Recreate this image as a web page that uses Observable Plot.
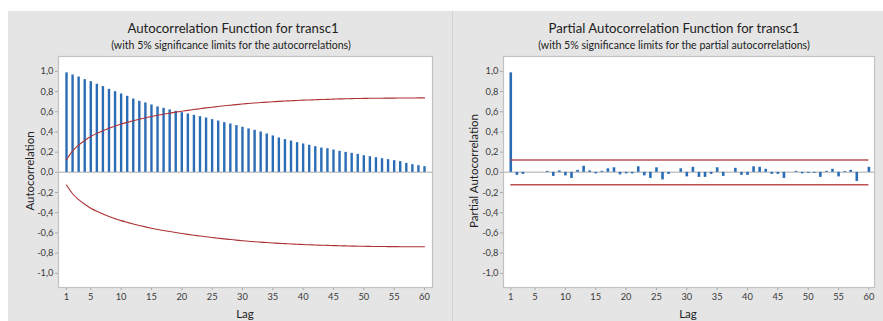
<!DOCTYPE html>
<html><head><meta charset="utf-8">
<script src="https://cdn.jsdelivr.net/npm/d3@7"></script>
<script src="https://cdn.jsdelivr.net/npm/@observablehq/plot@0.6"></script>
<style>
body{margin:0;background:#fff;font-family:Lato,"Noto Sans",sans-serif;}
#wrap{position:relative;width:883px;height:321px;overflow:hidden;background:#fff;}
.panel{position:absolute;top:11px;height:310px;background:#e5e5e5;}
.divider{position:absolute;top:11px;left:452px;width:1px;height:310px;background:#d2d2d2;}
.title{position:absolute;white-space:nowrap;transform:translateX(-50%);color:#222;font-size:13.2px;line-height:16px;}
.sub{position:absolute;white-space:nowrap;transform:translateX(-50%);color:#222;font-size:10.6px;line-height:12px;}
.ylab{position:absolute;white-space:nowrap;color:#222;font-size:11.5px;line-height:14px;transform:translate(-50%,-50%) rotate(-90deg);}
.xlab{position:absolute;white-space:nowrap;color:#222;font-size:11.5px;line-height:14px;transform:translate(-50%,-50%);}
.svgbox{position:absolute;top:11px;}
</style>
</head><body>
<div id="wrap">
  <div class="panel" style="left:8px;width:444px;"></div>
  <div class="panel" style="left:452px;width:431px;"></div>
  <div class="divider"></div>
  <div class="title" style="left:233px;top:20px;">Autocorrelation Function for transc1</div>
  <div class="sub" style="left:231px;top:39px;">(with 5% significance limits for the autocorrelations)</div>
  <div class="title" style="left:674px;top:20px;">Partial Autocorrelation Function for transc1</div>
  <div class="sub" style="left:674px;top:39px;">(with 5% significance limits for the partial autocorrelations)</div>
  <div id="left" class="svgbox" style="left:8px;"></div>
  <div id="right" class="svgbox" style="left:452px;"></div>
  <div class="ylab" style="left:30px;top:171px;">Autocorrelation</div>
  <div class="ylab" style="left:474px;top:171px;">Partial Autocorrelation</div>
  <div class="xlab" style="left:245px;top:314px;">Lag</div>
  <div class="xlab" style="left:688px;top:314px;">Lag</div>
</div>
<script>
// ---- data ----
const acfValues = [
  0.985, 0.964, 0.944, 0.918, 0.898, 0.872, 0.849, 0.822, 0.799, 0.776,
  0.753, 0.726, 0.703, 0.687, 0.667, 0.648, 0.634, 0.618, 0.604, 0.591,
  0.578, 0.565, 0.551, 0.538, 0.522, 0.508, 0.492, 0.479, 0.463, 0.446,
  0.430, 0.416, 0.400, 0.380, 0.360, 0.340, 0.324, 0.310, 0.294, 0.281,
  0.268, 0.254, 0.241, 0.234, 0.221, 0.208, 0.198, 0.188, 0.178, 0.165,
  0.155, 0.145, 0.135, 0.126, 0.116, 0.106, 0.089, 0.076, 0.066, 0.056
];
const acfLimit = [
  0.125, 0.212, 0.270, 0.316, 0.355, 0.386, 0.413, 0.437, 0.458, 0.478,
  0.495, 0.511, 0.526, 0.540, 0.553, 0.565, 0.576, 0.586, 0.596, 0.605,
  0.614, 0.622, 0.630, 0.638, 0.645, 0.652, 0.659, 0.665, 0.671, 0.677,
  0.682, 0.687, 0.691, 0.695, 0.699, 0.703, 0.706, 0.709, 0.712, 0.715,
  0.717, 0.719, 0.721, 0.723, 0.725, 0.727, 0.728, 0.730, 0.731, 0.732,
  0.733, 0.734, 0.734, 0.735, 0.735, 0.736, 0.736, 0.736, 0.737, 0.737
];
const pacfValues = [
  0.985, -0.030, -0.020, 0.000, 0.000, 0.000, 0.010, -0.040, 0.015, -0.035,
  -0.060, 0.020, 0.060, 0.015, -0.015, 0.010, 0.035, 0.045, -0.025, -0.015,
  -0.015, 0.055, -0.035, -0.060, 0.045, -0.075, -0.020, 0.000, 0.035, -0.045,
  0.050, -0.050, -0.050, -0.020, 0.045, -0.040, 0.000, 0.040, -0.030, -0.030,
  0.055, 0.050, 0.030, -0.020, -0.020, -0.060, 0.000, 0.010, -0.015, -0.010,
  -0.010, -0.050, 0.010, 0.030, -0.045, 0.008, 0.020, -0.090, 0.000, 0.050
];
const pacfLimit = 0.122;
const xTicks = [1, 5, 10, 15, 20, 25, 30, 35, 40, 45, 50, 55, 60];
const yTicks = [-1.0, -0.8, -0.6, -0.4, -0.2, 0.0, 0.2, 0.4, 0.6, 0.8, 1.0];

const lags = acfValues.map((_, i) => i + 1);
const fmt = d => d.toFixed(1).replace(".", ",");
const blue = "#2b6cb6";
const red = "#ad3236";

const acfRows = lags.map((l, i) => ({lag: l, v: acfValues[i], lim: acfLimit[i]}));
const pacfRows = lags.map((l, i) => ({lag: l, v: pacfValues[i]}));

function makePlot(opts) {
  return Plot.plot({
    width: opts.width, height: 310,
    marginLeft: opts.ml, marginRight: opts.mr, marginTop: 45, marginBottom: 34,
    style: {fontFamily: "Lato, 'Noto Sans', sans-serif", fontSize: "9.3px", background: "transparent", color: "#333"},
    x: {domain: opts.xdom, label: null},
    y: {domain: [-1.14, 1.147], label: null},
    marks: [
      Plot.frame({fill: "white", stroke: null}),
      Plot.axisY({ticks: yTicks, tickFormat: fmt, tickSize: 3, tickPadding: 2, color: "#3a3a3a", strokeOpacity: 0.35, label: null}),
      Plot.axisX({ticks: xTicks, tickFormat: d => String(d), tickSize: 3, tickPadding: 3, color: "#3a3a3a", strokeOpacity: 0.35, label: null}),
      Plot.ruleY([0], {stroke: "#c6c6c6", strokeWidth: 1.5}),
      ...opts.marks,
      Plot.frame({stroke: "#c2c2c2", strokeWidth: 1.2})
    ]
  });
}

const left = makePlot({
  width: 444, ml: 50, mr: 20, xdom: [-0.32, 61.32],
  marks: [
    Plot.ruleX(acfRows, {x: "lag", y1: 0, y2: "v", stroke: blue, strokeWidth: 2.4}),
    Plot.line(acfRows, {x: "lag", y: "lim", stroke: red, strokeWidth: 1.1, curve: "monotone-x"}),
    Plot.line(acfRows, {x: "lag", y: d => -d.lim, stroke: red, strokeWidth: 1.1, curve: "monotone-x"})
  ]
});
document.getElementById("left").appendChild(left);

const right = makePlot({
  width: 431, ml: 51, mr: 9, xdom: [-0.2, 60.92],
  marks: [
    Plot.ruleX(pacfRows, {x: "lag", y1: 0, y2: "v", stroke: blue, strokeWidth: 2.6}),
    Plot.ruleY([pacfLimit], {x1: 1, x2: 60, stroke: red, strokeWidth: 1.4, strokeOpacity: 0.85}),
    Plot.ruleY([-pacfLimit], {x1: 1, x2: 60, stroke: red, strokeWidth: 1.4, strokeOpacity: 0.85})
  ]
});
document.getElementById("right").appendChild(right);
</script>
</body></html>
